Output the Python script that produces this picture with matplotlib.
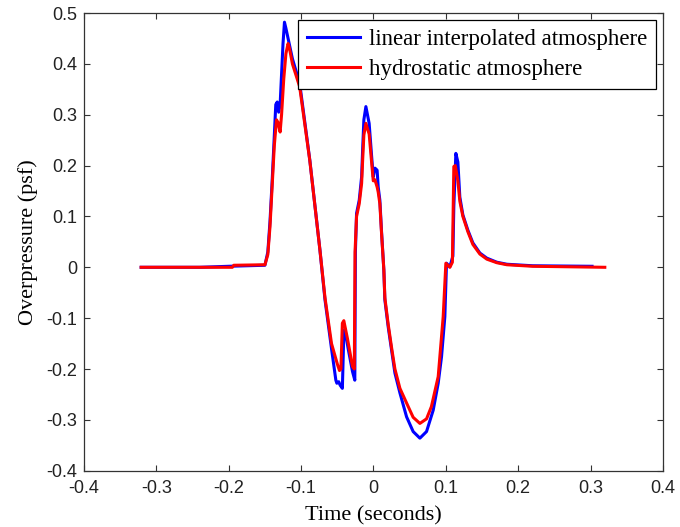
import matplotlib
matplotlib.use("Agg")
import matplotlib.pyplot as plt

# blue: linear interpolated atmosphere
blue_t = [-0.321, -0.240, -0.200, -0.150, -0.146, -0.143, -0.140, -0.137, -0.135, -0.133,
          -0.131, -0.129, -0.127, -0.125, -0.123, -0.121, -0.118, -0.112, -0.102, -0.088,
          -0.074, -0.067, -0.058, -0.052, -0.0506, -0.048, -0.046, -0.043, -0.041, -0.0395,
          -0.035, -0.029, -0.0258, -0.0250, -0.0234, -0.0197, -0.0164, -0.015, -0.0133, -0.0105,
          -0.006, -0.0025, -0.0003, 0.002, 0.005, 0.0065, 0.0088, 0.011, 0.0143, 0.0157,
          0.0203, 0.025, 0.0296, 0.0365, 0.0457, 0.0548, 0.0641, 0.0733, 0.0825, 0.0894,
          0.094, 0.0986, 0.1009, 0.1055, 0.1097, 0.111, 0.1138, 0.1166, 0.1193, 0.1235,
          0.1304, 0.1373, 0.147, 0.1566, 0.1704, 0.1843, 0.220, 0.302]
blue_p = [0.000, 0.000, 0.002, 0.004, 0.030, 0.090, 0.170, 0.260, 0.320, 0.325,
          0.305, 0.320, 0.380, 0.440, 0.482, 0.470, 0.450, 0.410, 0.362, 0.211,
          0.034, -0.064, -0.160, -0.222, -0.228, -0.225, -0.232, -0.238, -0.130, -0.122,
          -0.160, -0.205, -0.222, 0.030, 0.106, 0.132, 0.178, 0.231, 0.290, 0.316,
          0.283, 0.217, 0.178, 0.195, 0.191, 0.158, 0.132, 0.073, -0.005, -0.064,
          -0.117, -0.163, -0.208, -0.247, -0.294, -0.323, -0.336, -0.323, -0.281, -0.228,
          -0.176, -0.097, 0.008, 0.001, 0.022, 0.120, 0.224, 0.207, 0.138, 0.103,
          0.073, 0.048, 0.028, 0.018, 0.010, 0.006, 0.003, 0.002]

# red: hydrostatic atmosphere
red_t = [-0.321, -0.195, -0.193, -0.150, -0.146, -0.143, -0.140, -0.137, -0.134, -0.132,
         -0.129, -0.127, -0.124, -0.121, -0.118, -0.116, -0.112, -0.102, -0.088, -0.074,
         -0.067, -0.058, -0.050, -0.047, -0.045, -0.043, -0.041, -0.036, -0.029, -0.0265,
         -0.0255, -0.0234, -0.0197, -0.0164, -0.015, -0.0133, -0.0105, -0.006, -0.0025, -0.0003,
         0.002, 0.005, 0.0065, 0.0088, 0.011, 0.0143, 0.0157, 0.0203, 0.025, 0.0296,
         0.0365, 0.048, 0.0548, 0.0641, 0.0733, 0.080, 0.0894, 0.0963, 0.100, 0.1055,
         0.109, 0.111, 0.113, 0.1166, 0.1193, 0.1235, 0.1304, 0.1373, 0.147, 0.1566,
         0.1704, 0.1843, 0.220, 0.3196]
red_p = [0.000, 0.000, 0.004, 0.005, 0.025, 0.080, 0.160, 0.240, 0.290, 0.285,
         0.266, 0.300, 0.370, 0.420, 0.440, 0.430, 0.400, 0.355, 0.210, 0.034,
         -0.060, -0.150, -0.190, -0.203, -0.200, -0.110, -0.105, -0.140, -0.195, -0.200,
         0.030, 0.100, 0.125, 0.165, 0.210, 0.260, 0.283, 0.262, 0.205, 0.170,
         0.172, 0.158, 0.148, 0.125, 0.070, -0.005, -0.060, -0.112, -0.158, -0.200,
         -0.238, -0.274, -0.295, -0.307, -0.298, -0.274, -0.215, -0.097, 0.008, 0.000,
         0.010, 0.198, 0.200, 0.170, 0.130, 0.100, 0.070, 0.045, 0.026, 0.016,
         0.009, 0.005, 0.002, 0.000]

x_ticks = [-0.4, -0.3, -0.2, -0.1, 0.0, 0.1, 0.2, 0.3, 0.4]
x_tick_labels = ["-0.4", "-0.3", "-0.2", "-0.1", "0", "0.1", "0.2", "0.3", "0.4"]
y_ticks = [-0.4, -0.3, -0.2, -0.1, 0.0, 0.1, 0.2, 0.3, 0.4, 0.5]
y_tick_labels = ["-0.4", "-0.3", "-0.2", "-0.1", "0", "0.1", "0.2", "0.3", "0.4", "0.5"]

SERIF = ["Liberation Serif", "DejaVu Serif"]
SANS = ["Liberation Sans", "DejaVu Sans"]

fig = plt.figure(figsize=(6.8, 5.27), dpi=100)
ax = fig.add_axes([0.1235, 0.1068, 0.8515, 0.8685])

ax.plot(blue_t, blue_p, color=(0, 0, 1), linewidth=2.2, label="linear interpolated atmosphere")
ax.plot(red_t, red_p, color=(1, 0, 0), linewidth=2.2, label="hydrostatic atmosphere")

ax.set_xlim(-0.4, 0.4)
ax.set_ylim(-0.4, 0.5)
ax.set_xticks(x_ticks)
ax.set_xticklabels(x_tick_labels, family=SANS, fontsize=13, color="#222222")
ax.set_yticks(y_ticks)
ax.set_yticklabels(y_tick_labels, family=SANS, fontsize=13, color="#222222")
ax.tick_params(direction="in", top=True, right=True, length=4, width=0.8, color="#333333")
ax.tick_params(axis="x", pad=7)
ax.tick_params(axis="y", pad=5)
for sp in ax.spines.values():
    sp.set_linewidth(0.9)
    sp.set_color("#333333")

ax.set_xlabel("Time (seconds)", family=SERIF, fontsize=16, labelpad=6)
ax.set_ylabel("Overpressure (psf)", family=SERIF, fontsize=16, labelpad=6)

leg = ax.legend(loc="upper right", prop={"family": SERIF, "size": 16.5}, fancybox=False,
                framealpha=1, edgecolor="black", handlelength=2.3, handletextpad=0.4,
                labelspacing=0.4, borderaxespad=0.3, borderpad=0.4)
leg.get_frame().set_linewidth(0.9)

fig.savefig("out.png", dpi=100)
